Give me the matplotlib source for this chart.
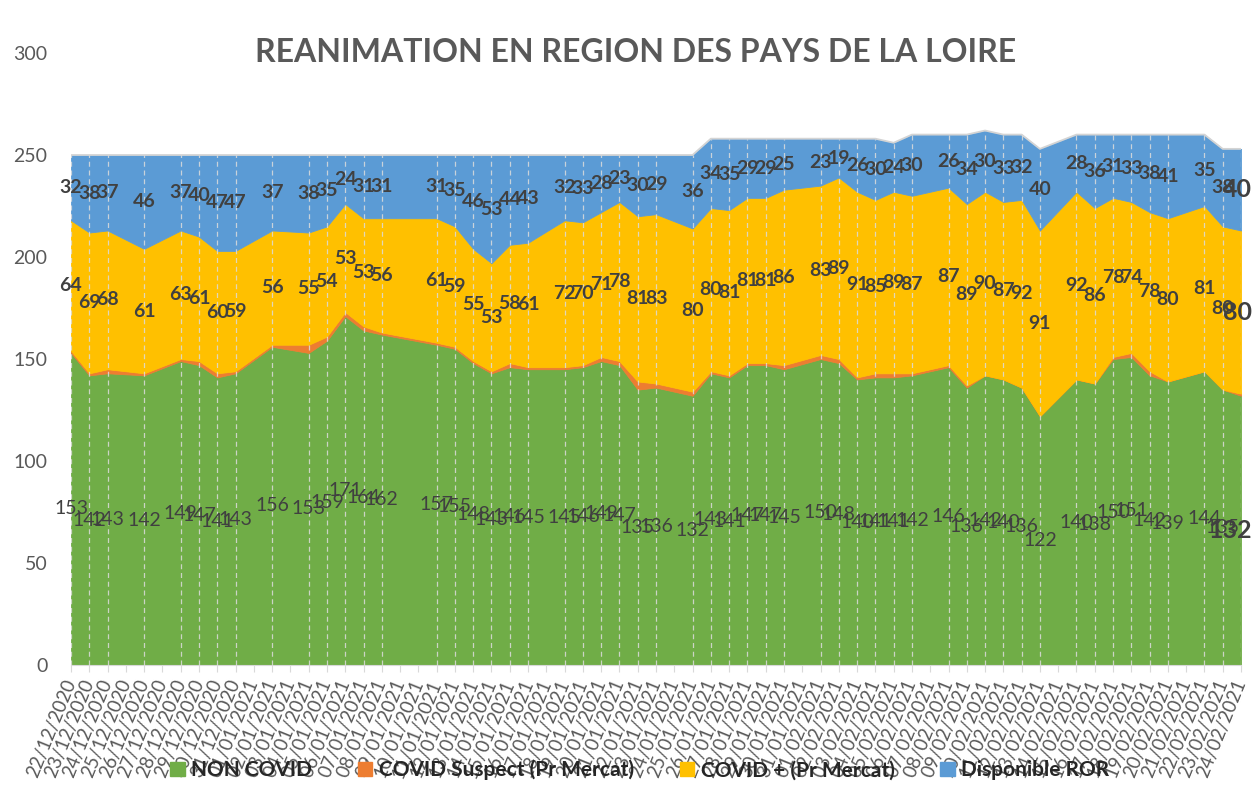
import numpy as np
import pandas as pd
import matplotlib
matplotlib.use("Agg")
import matplotlib.pyplot as plt
from matplotlib.patches import Patch

plt.rcParams['font.family'] = ['Lato', 'DejaVu Sans']

# data points (working days reported)
dates = ["22/12/2020", "23/12/2020", "24/12/2020", "26/12/2020", "28/12/2020",
         "29/12/2020", "30/12/2020", "31/12/2020", "02/01/2021", "04/01/2021",
         "05/01/2021", "06/01/2021", "07/01/2021", "08/01/2021", "11/01/2021",
         "12/01/2021", "13/01/2021", "14/01/2021", "15/01/2021", "16/01/2021",
         "18/01/2021", "19/01/2021", "20/01/2021", "21/01/2021", "22/01/2021",
         "23/01/2021", "25/01/2021", "26/01/2021", "27/01/2021", "28/01/2021",
         "29/01/2021", "30/01/2021", "01/02/2021", "02/02/2021", "03/02/2021",
         "04/02/2021", "05/02/2021", "06/02/2021", "08/02/2021", "09/02/2021",
         "10/02/2021", "11/02/2021", "12/02/2021", "13/02/2021", "15/02/2021",
         "16/02/2021", "17/02/2021", "18/02/2021", "19/02/2021", "20/02/2021",
         "22/02/2021", "23/02/2021", "24/02/2021"]

non_covid = [153, 142, 143, 142, 149, 147, 141, 143, 156, 153,
             159, 171, 164, 162, 157, 155, 148, 143, 146, 145,
             145, 146, 149, 147, 135, 136, 132, 143, 141, 147,
             147, 145, 150, 148, 140, 141, 141, 142, 146, 136,
             142, 140, 136, 122, 140, 138, 150, 151, 142, 139,
             144, 135, 132]
suspect = [1, 1, 2, 1, 1, 2, 2, 1, 1, 4,
           2, 2, 2, 1, 1, 1, 1, 1, 2, 1,
           1, 1, 2, 2, 4, 2, 2, 1, 1, 1,
           1, 2, 2, 2, 1, 2, 2, 1, 1, 1,
           0, 0, 0, 0, 0, 0, 1, 2, 2, 0,
           0, 0, 1]
covid_plus = [64, 69, 68, 61, 63, 61, 60, 59, 56, 55,
              54, 53, 53, 56, 61, 59, 55, 53, 58, 61,
              72, 70, 71, 78, 81, 83, 80, 80, 81, 81,
              81, 86, 83, 89, 91, 85, 89, 87, 87, 89,
              90, 87, 92, 91, 92, 86, 78, 74, 78, 80,
              81, 80, 80]
dispo = [32, 38, 37, 46, 37, 40, 47, 47, 37, 38,
         35, 24, 31, 31, 31, 35, 46, 53, 44, 43,
         32, 33, 28, 23, 30, 29, 36, 34, 35, 29,
         29, 25, 23, 19, 26, 30, 24, 30, 26, 34,
         30, 33, 32, 40, 28, 36, 31, 33, 38, 41,
         35, 38, 40]

series_names = ["NON COVID", "COVID Suspect (Pr Mercat)", "COVID + (Pr Mercat)", "Disponible ROR"]
colors = ["#70AD47", "#ED7D31", "#FFC000", "#5B9BD5"]

d = pd.to_datetime(dates, format="%d/%m/%Y")
all_days = pd.date_range(d[0], d[-1], freq="D")
x = np.asarray((d - d[0]).days)

g = np.array(non_covid)
o = np.array(suspect)
y = np.array(covid_plus)
b = np.array(dispo)
total = g + o + y + b

fig = plt.figure(figsize=(12.52, 8.02), dpi=100)
ax = fig.add_axes([71 / 1252, 137 / 802, 1170 / 1252, 612 / 802])

polys = ax.stackplot(x, g, o, y, b, colors=colors, linewidth=0.6)
for p, c in zip(polys, colors):
    p.set_edgecolor(c)
ax.plot(x, total, color="#d4d4d4", lw=1.3)
ax.vlines(x, 0, total, colors="#dcdcdc", linestyles=(0, (4, 3)), lw=0.9, alpha=0.85)

ax.set_xlim(0, len(all_days) - 1)
ax.set_ylim(0, 300)
ax.set_yticks(np.arange(0, 301, 50))
ax.set_xticks(np.arange(len(all_days)))
ax.set_xticklabels([t.strftime("%d/%m/%Y") for t in all_days], rotation=68,
                   ha="right", va="center", rotation_mode="anchor")
ax.tick_params(axis="y", length=0, pad=17, labelsize=14, labelcolor="#595959")
ax.tick_params(axis="x", length=5, color="#d9d9d9", pad=6, labelsize=13.5, labelcolor="#595959")
for s in ["top", "right", "left"]:
    ax.spines[s].set_visible(False)
ax.spines["bottom"].set_color("#d9d9d9")

# data labels at middle of each band
n = len(x)
for i in range(n):
    last = i == n - 1
    xi = x[i] + 0.6 if last else x[i]
    ha = "right" if last else "center"
    fs = 18 if last else 14
    ax.text(xi, g[i] / 2, str(g[i]), ha=ha, va="center", fontsize=fs,
            color="#404040", fontweight="bold" if last else "normal")
    ax.text(xi, g[i] + o[i] + y[i] / 2, str(y[i]), ha=ha, va="center", fontsize=fs,
            color="#404040", fontweight="bold")
    ax.text(xi, total[i] - b[i] / 2, str(b[i]), ha=ha, va="center", fontsize=fs,
            color="#404040", fontweight="bold")

fig.text(0.508, 1 - 53 / 802, "REANIMATION EN REGION DES PAYS DE LA LOIRE",
         ha="center", va="center", fontsize=23, fontweight="bold", color="#595959")

handles = [Patch(facecolor=c, edgecolor=c) for c in colors]
fig.legend(handles, series_names, loc="center", bbox_to_anchor=(0.511, 1 - 770 / 802),
           ncol=4, frameon=False, handlelength=0.7, handleheight=0.7,
           handletextpad=0.3, columnspacing=2.2,
           prop={"size": 15, "weight": "bold"}, labelcolor="#262626")

fig.savefig("out.png", dpi=100)
